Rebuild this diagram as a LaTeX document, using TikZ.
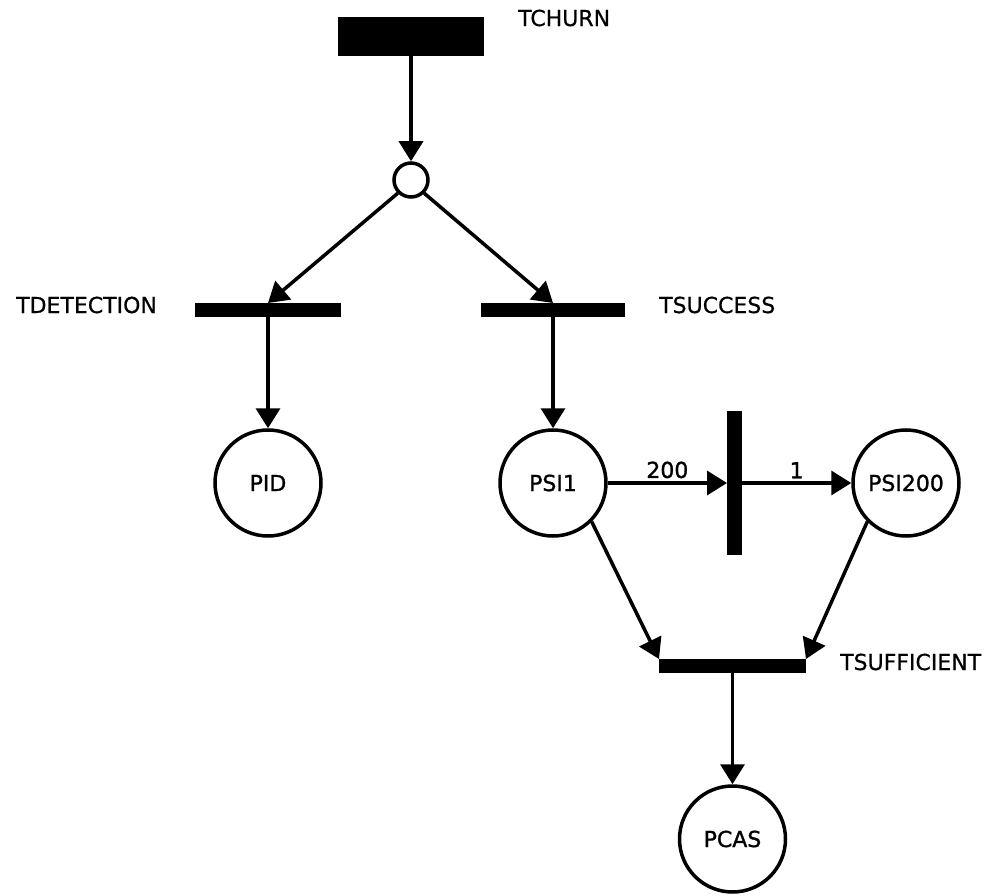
\documentclass[tikz,border=0pt]{standalone}
\usepackage{fontspec}
\setmainfont{DejaVu Sans}
\newfontfamily\heavyfont[FakeBold=1.2]{DejaVu Sans}
\newfontfamily\labelfont[FakeBold=0.6]{DejaVu Sans}
\usepackage{tikz}
\usetikzlibrary{arrows.meta,positioning}
\tikzset{
  place/.style={draw,circle,line width=3.5pt,minimum size=106pt,inner sep=0pt,
    font=\heavyfont\fontsize{22}{26}\selectfont},
  smallplace/.style={place,minimum size=34pt},
  hbar/.style={fill=black,draw=none,minimum width=146pt,minimum height=14pt,
    inner sep=0pt,outer sep=0pt},
  vbar/.style={hbar,minimum width=15pt,minimum height=144pt},
  tlabel/.style={anchor=west,inner sep=0pt,font=\labelfont\fontsize{22}{26}\selectfont},
  weight/.style={above,inner sep=3pt,font=\heavyfont\fontsize{22}{26}\selectfont},
  arrow/.style={-{Triangle[length=20pt,width=24pt]},line width=3.5pt}
}
\begin{document}
\begin{tikzpicture}[x=1pt,y=-1pt]
  \useasboundingbox (0,0) rectangle (989,896);
  \node[hbar,minimum height=39pt] (tchurn) at (411,36.5) {};
  \node[tlabel] (tchurnlbl) at (518,18) {TCHURN};
  \node[smallplace] (fork) at (411,180) {};
  \node[hbar] (tdet) at (268,310) {};
  \node[tlabel] (tdetlbl) at (16,305) {TDETECTION};
  \node[hbar,minimum width=144pt] (tsucc) at (553,310) {};
  \node[tlabel] (tsucclbl) at (659,305) {TSUCCESS};
  \node[place] (pid) at (268,483) {PID};
  \node[place] (psi1) at (553,483) {PSI1};
  \node[vbar] (tcount) at (734.5,483) {};
  \node[place] (psi200) at (906,483) {PSI200};
  \node[hbar,minimum width=147pt] (tsuff) at (732.5,666) {};
  \node[tlabel] (tsufflbl) at (840,662) {TSUFFICIENT};
  \node[place] (pcas) at (732.5,839) {PCAS};
  \draw[arrow] (tchurn.south) -- (fork.north);
  \draw[arrow] (fork.-135) -- (tdet.north);
  \draw[arrow] (fork.-45) -- (tsucc.north);
  \draw[arrow] (tdet.south) -- (pid.north);
  \draw[arrow] (tsucc.south) -- (psi1.north);
  \draw[arrow] (psi1.east) -- node[weight] {200} (tcount.west);
  \draw[arrow] (tcount.east) -- node[weight] {1} (psi200.west);
  \draw[arrow] (psi1.-45) -- (tsuff.north west);
  \draw[arrow] (psi200.-135) -- (tsuff.north east);
  \draw[arrow] (tsuff.south) -- (pcas.north);
\end{tikzpicture}
\end{document}
